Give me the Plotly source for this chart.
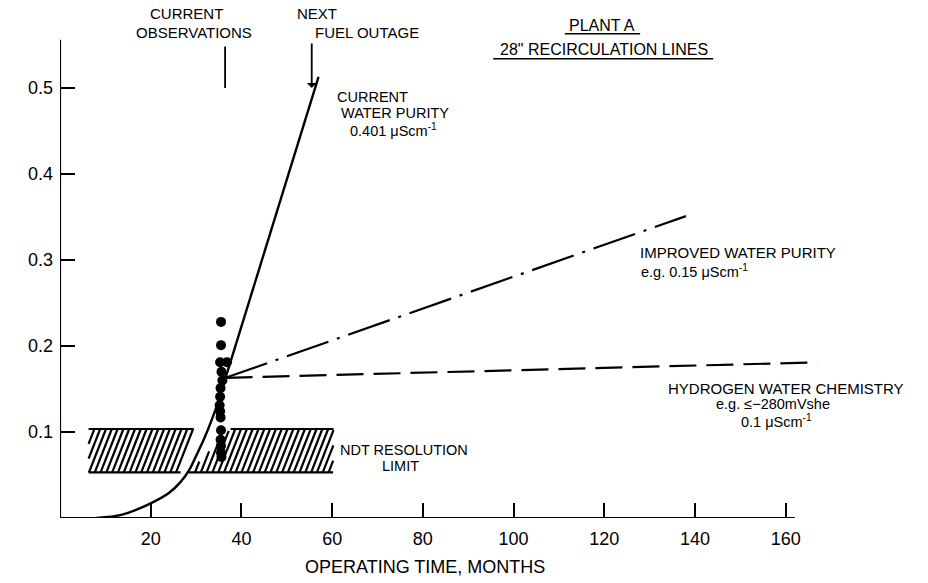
import numpy as np
import plotly.graph_objects as go

# ---------------- data ----------------
curve_x = [8, 12, 15, 20, 24, 26.6, 28.5, 30, 32, 34, 35.5, 36.5]
curve_y = [0, 0.002, 0.006, 0.017, 0.029, 0.042, 0.056, 0.072, 0.095, 0.122, 0.145, 0.163]
current_x = [36.5, 57]
current_y = [0.163, 0.513]
improved_x = [36.5, 138]
improved_y = [0.163, 0.351]
hwc_x = [36.5, 167]
hwc_y = [0.163, 0.181]
obs_x = [35.5, 35.5, 35.3, 36.8, 35.6, 35.8, 35.4, 35.3, 35.2, 35.3, 35.4, 35.5, 35.4, 35.5, 35.5, 35.6]
obs_y = [0.228, 0.201, 0.181, 0.181, 0.170, 0.160, 0.151, 0.141, 0.131, 0.124, 0.117,
         0.102, 0.091, 0.084, 0.076, 0.071]
# NDT resolution band (two pieces, interrupted by the curve)
band_y = [0.053, 0.1035]
band_left_bottom = [6.3, 26.6]
band_left_top = [6.3, 29.5]
band_right_bottom = [28.4, 60.2]
band_right_top = [37.6, 60.3]
x_ticks = [20, 40, 60, 80, 100, 120, 140, 160]
y_ticks = [0.1, 0.2, 0.3, 0.4, 0.5]

FONT = "Liberation Sans"
fig = go.Figure()


def interval(a, c):
    # t in [0,1] with a + c*t >= 0
    if abs(c) < 1e-12:
        return (0.0, 1.0) if a >= 0 else None
    r = -a / c
    if c > 0:
        return (max(0.0, r), 1.0)
    return (0.0, min(1.0, r))


def hatch(bottom, top, y0, y1, d=3.75, s=1.28):
    xs, ys = [], []
    xb0, xb1 = bottom
    xt0, xt1 = top
    for b in np.arange(xb0 - d - s, xb1 + s, s):
        i1 = interval(b - xb0, d - (xt0 - xb0))
        i2 = interval(-(b - xb1), -(d - (xt1 - xb1)))
        if i1 is None or i2 is None:
            continue
        t0, t1 = max(i1[0], i2[0]), min(i1[1], i2[1])
        if t1 - t0 < 0.02:
            continue
        xs += [b + d * t0, b + d * t1, None]
        ys += [y0 + (y1 - y0) * t0, y0 + (y1 - y0) * t1, None]
    # border lines
    xs += [xb0, xb1, None, xt0, xt1, None]
    ys += [y0, y0, None, y1, y1, None]
    return xs, ys


for bot, top in [(band_left_bottom, band_left_top), (band_right_bottom, band_right_top)]:
    hx, hy = hatch(bot, top, band_y[0], band_y[1])
    fig.add_trace(go.Scatter(x=hx, y=hy, mode="lines",
                             line=dict(color="black", width=2.2), hoverinfo="skip"))

fig.add_trace(go.Scatter(x=curve_x, y=curve_y, mode="lines",
                         line=dict(color="black", width=2.4, shape="spline", smoothing=0.8)))
fig.add_trace(go.Scatter(x=current_x, y=current_y, mode="lines",
                         line=dict(color="black", width=2.4)))
fig.add_trace(go.Scatter(x=improved_x, y=improved_y, mode="lines",
                         line=dict(color="black", width=2.2, dash="44px,9px,3px,9px")))
fig.add_trace(go.Scatter(x=hwc_x, y=hwc_y, mode="lines",
                         line=dict(color="black", width=2.2, dash="27px,10px")))
fig.add_trace(go.Scatter(x=obs_x, y=obs_y, mode="markers",
                         marker=dict(color="black", size=10)))

# axis lines
fig.add_shape(type="line", x0=0, x1=162, y0=0, y1=0, xref="x", yref="y",
              line=dict(color="black", width=2.2))
fig.add_shape(type="line", x0=0, x1=0, y0=0, y1=0.556, xref="x", yref="y",
              line=dict(color="black", width=2.2))
# underlines
fig.add_shape(type="line", x0=111.3, x1=127.9, y0=0.563, y1=0.563, xref="x", yref="y",
              line=dict(color="black", width=1.6))
fig.add_shape(type="line", x0=95.5, x1=144.0, y0=0.534, y1=0.534, xref="x", yref="y",
              line=dict(color="black", width=1.6))


def txt(x, y, text, xanchor="left", size=15, yref="y"):
    fig.add_annotation(x=x, y=y, xref="x", yref=yref, text=text, showarrow=False,
                       xanchor=xanchor, yanchor="middle",
                       font=dict(family=FONT, size=size, color="black"))


txt(27.8, 0.587, "CURRENT", "center")
txt(29.5, 0.564, "OBSERVATIONS", "center")
txt(51.8, 0.587, "NEXT")
txt(55.8, 0.564, "FUEL OUTAGE")
txt(60.6, 0.4895, "CURRENT", size=14.5)
txt(61.5, 0.471, "WATER PURITY", size=14.5)
txt(63.6, 0.451, "0.401 μScm<sup>-1</sup>", size=14.5)
txt(119.5, 0.573, "PLANT A", "center", size=16)
txt(119.9, 0.545, "28\" RECIRCULATION LINES", "center", size=16)
txt(127.4, 0.309, "IMPROVED WATER PURITY", size=15)
txt(127.6, 0.287, "e.g. 0.15 μScm<sup>-1</sup>", size=14.5)
txt(160.1, 0.151, "HYDROGEN WATER CHEMISTRY", "center", size=15)
txt(157.2, 0.1326, "e.g. ≤−280mVshe", "center", size=14.5)
txt(157.9, 0.113, "0.1 μScm<sup>-1</sup>", "center", size=14.5)
txt(61.3, 0.079, "NDT RESOLUTION", size=14.5)
txt(75, 0.060, "LIMIT", "center", size=14.5)
txt(80.5, -0.0946, "OPERATING TIME, MONTHS", "center", size=18, yref="paper")

for ax_x, tail, head in [(36.4, -43, 0), (55.5, -46, 1)]:
    fig.add_annotation(x=ax_x, y=0.5, xref="x", yref="y", ax=0, ay=tail, text="",
                       showarrow=True, arrowhead=head, arrowsize=0.9, arrowwidth=1.8,
                       arrowcolor="black")

fig.update_layout(
    width=928, height=583,
    margin=dict(l=60, r=8, t=0, b=65),
    paper_bgcolor="white", plot_bgcolor="white",
    showlegend=False,
    xaxis=dict(range=[0, 189.6], tickvals=x_ticks, ticktext=[str(v) for v in x_ticks],
               ticks="inside", ticklen=15, tickwidth=2, tickcolor="black",
               showgrid=False, zeroline=False, showline=False, ticklabelstandoff=8,
               tickfont=dict(family=FONT, size=18, color="black")),
    yaxis=dict(range=[0, 0.6023], tickvals=y_ticks, ticktext=[f"{v:.1f}" for v in y_ticks],
               ticks="inside", ticklen=15, tickwidth=2, tickcolor="black",
               showgrid=False, zeroline=False, showline=False, ticklabelstandoff=6,
               tickfont=dict(family=FONT, size=18, color="black")),
)

fig.write_html("out.html")
